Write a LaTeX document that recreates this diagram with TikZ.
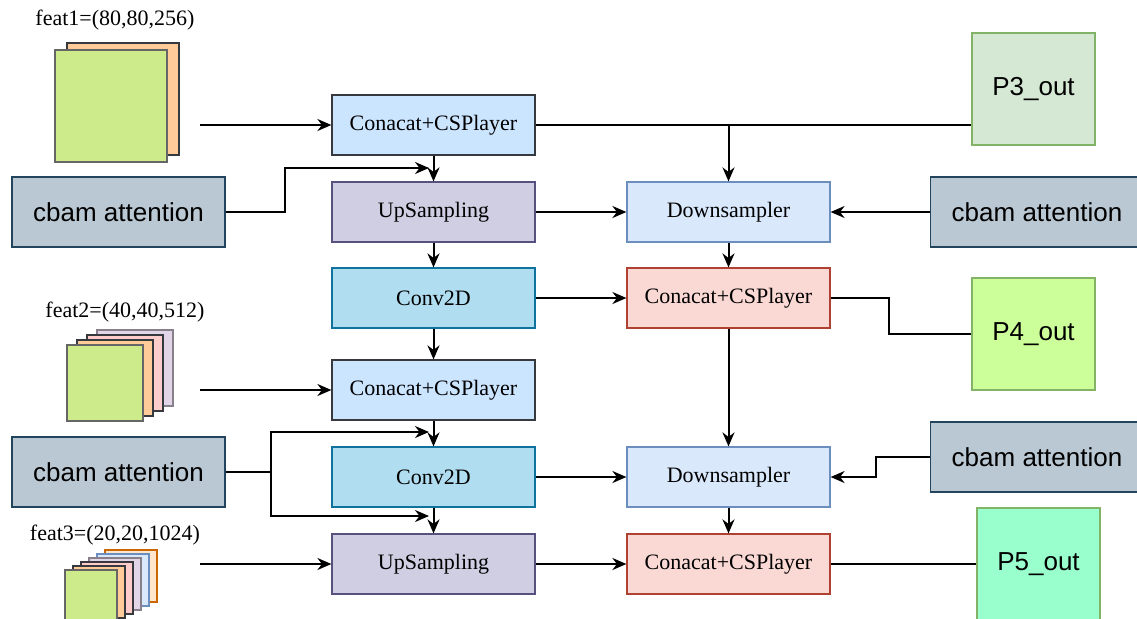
\documentclass[tikz,border=0pt]{standalone}
\usepackage{fontspec}
\setmainfont{Liberation Serif}
\setsansfont{Liberation Sans}
\usetikzlibrary{arrows.meta}
\definecolor{cspfill}{HTML}{CCE5FF}
\definecolor{cspline}{HTML}{36393D}
\definecolor{upfill}{HTML}{D0CEE2}
\definecolor{upline}{HTML}{56517E}
\definecolor{convfill}{HTML}{B1DDF0}
\definecolor{convline}{HTML}{10739E}
\definecolor{downfill}{HTML}{DAE8FC}
\definecolor{downline}{HTML}{6C8EBF}
\definecolor{redfill}{HTML}{FAD9D5}
\definecolor{redline}{HTML}{AE4132}
\definecolor{cbamfill}{HTML}{BAC8D3}
\definecolor{cbamline}{HTML}{23445D}
\definecolor{pthree}{HTML}{D5E8D4}
\definecolor{pfour}{HTML}{CCFF99}
\definecolor{pfive}{HTML}{99FFCC}
\definecolor{outline}{HTML}{82B366}
\definecolor{fgreen}{HTML}{CDEB8B}
\definecolor{forange}{HTML}{FFCC99}
\definecolor{fpink}{HTML}{FFCCCC}
\definecolor{fpurple}{HTML}{E1D5E7}
\definecolor{fblue}{HTML}{DAE8FC}
\definecolor{fcream}{HTML}{FFE6CC}
\begin{document}
\begin{tikzpicture}[x=0.5pt,y=-0.5pt,
  blk/.style={rectangle, line width=0.6pt, minimum width=101.5pt, minimum height=30pt, font=\fontsize{11}{13}\selectfont},
  csp/.style={blk, draw=cspline, fill=cspfill},
  ups/.style={blk, draw=upline, fill=upfill},
  conv/.style={blk, draw=convline, fill=convfill},
  down/.style={blk, draw=downline, fill=downfill},
  cspred/.style={blk, draw=redline, fill=redfill},
  cbam/.style={rectangle, line width=0.6pt, draw=cbamline, fill=cbamfill, minimum width=106.5pt, minimum height=35pt, font=\sffamily\fontsize{13}{15}\selectfont},
  pout/.style={rectangle, line width=0.6pt, draw=outline, minimum width=61.5pt, minimum height=56pt, font=\sffamily\fontsize{13}{15}\selectfont},
  lbl/.style={font=\fontsize{11}{13}\selectfont},
  sq/.style={line width=0.6pt, draw=#1},
  arr/.style={-{Stealth[length=7pt,width=6pt]}},
  line width=1pt]
\useasboundingbox (0,0) rectangle (1137,618);
\clip (0,0) rectangle (1137,618);

% feature maps
\node[lbl] (feat1) at (115,20) {feat1=(80,80,256)};
\filldraw[sq=cspline, fill=forange] (67,43) rectangle (179,155);
\filldraw[sq=black!60, fill=fgreen] (55,50) rectangle (167,162);

\node[lbl] (feat2) at (125,312) {feat2=(40,40,512)};
\foreach \i/\c/\d in {3/fpurple/fpurple!60!black, 2/fpink/cspline, 1/forange/cspline, 0/fgreen/black!60}
  \filldraw[sq=\d, fill=\c] (67+10*\i,345-5*\i) rectangle ++(76,76);

\node[lbl] (feat3) at (115,535) {feat3=(20,20,1024)};
\foreach \i/\c/\d in {5/fcream/orange!80!black, 4/fblue/downline, 3/fpurple/fpurple!60!black, 2/fpink/cspline, 1/forange/cspline, 0/fgreen/black!60}
  \filldraw[sq=\d, fill=\c] (65+8*\i,570-4*\i) rectangle ++(52,52);

\coordinate (in1) at (200,125);
\coordinate (in2) at (200,390);
\coordinate (in3) at (200,564);

% middle column
\node[csp] (csp1) at (433.5,125) {Conacat+CSPlayer};
\node[ups] (up1) at (433.5,212) {UpSampling};
\node[conv] (conv1) at (433.5,298) {Conv2D};
\node[csp] (csp2) at (433.5,390) {Conacat+CSPlayer};
\node[conv] (conv2) at (433.5,477) {Conv2D};
\node[ups] (up2) at (433.5,564) {UpSampling};

% right column
\node[down] (down1) at (728.5,212) {Downsampler};
\node[cspred] (csp3) at (728.5,298) {Conacat+CSPlayer};
\node[down] (down2) at (728.5,477) {Downsampler};
\node[cspred] (csp4) at (728.5,564) {Conacat+CSPlayer};

% attention
\node[cbam] (cbamL1) at (118.5,212) {cbam attention};
\node[cbam] (cbamL2) at (118.5,472) {cbam attention};
\node[cbam] (cbamR1) at (1037,212) {cbam attention};
\node[cbam] (cbamR2) at (1037,457) {cbam attention};

% outputs
\node[pout, fill=pthree] (p3) at (1033.5,89) {P3\_out};
\node[pout, fill=pfour] (p4) at (1033.5,334) {P4\_out};
\node[pout, fill=pfive] (p5) at (1038.5,564) {P5\_out};

\coordinate (j1) at (429,168);
\coordinate (j2) at (429,432);
\coordinate (j3) at (429,516);

\draw[arr] (in1) -- (csp1.west);
\draw[arr] (in2) -- (csp2.west);
\draw[arr] (in3) -- (up2.west);
\draw[arr] (csp1) -- (up1);
\draw[arr] (up1) -- (conv1);
\draw[arr] (conv1) -- (csp2);
\draw[arr] (csp2) -- (conv2);
\draw[arr] (conv2) -- (up2);
\draw[arr] (cbamL1.east) -- ++(59,0) |- (j1);
\draw (cbamL2.east) -- ++(45,0) coordinate (split);
\draw[arr] (split) |- (j2);
\draw[arr] (split) |- (j3);
\draw (csp1.east) -- (csp1.east -| p3.west);
\draw[arr] (down1.north |- csp1.east) -- (down1.north);
\draw[arr] (up1) -- (down1);
\draw[arr] (cbamR1) -- (down1);
\draw[arr] (down1) -- (csp3);
\draw[arr] (conv1) -- (csp3);
\draw (csp3.east) -- ++(58,0) |- (p4.west);
\draw[arr] (csp3) -- (down2);
\draw[arr] (conv2) -- (down2);
\draw[arr] (cbamR2.west) -- ++(-54,0) |- (down2.east);
\draw[arr] (down2) -- (csp4);
\draw[arr] (up2) -- (csp4);
\draw (csp4) -- (p5);
\end{tikzpicture}
\end{document}
